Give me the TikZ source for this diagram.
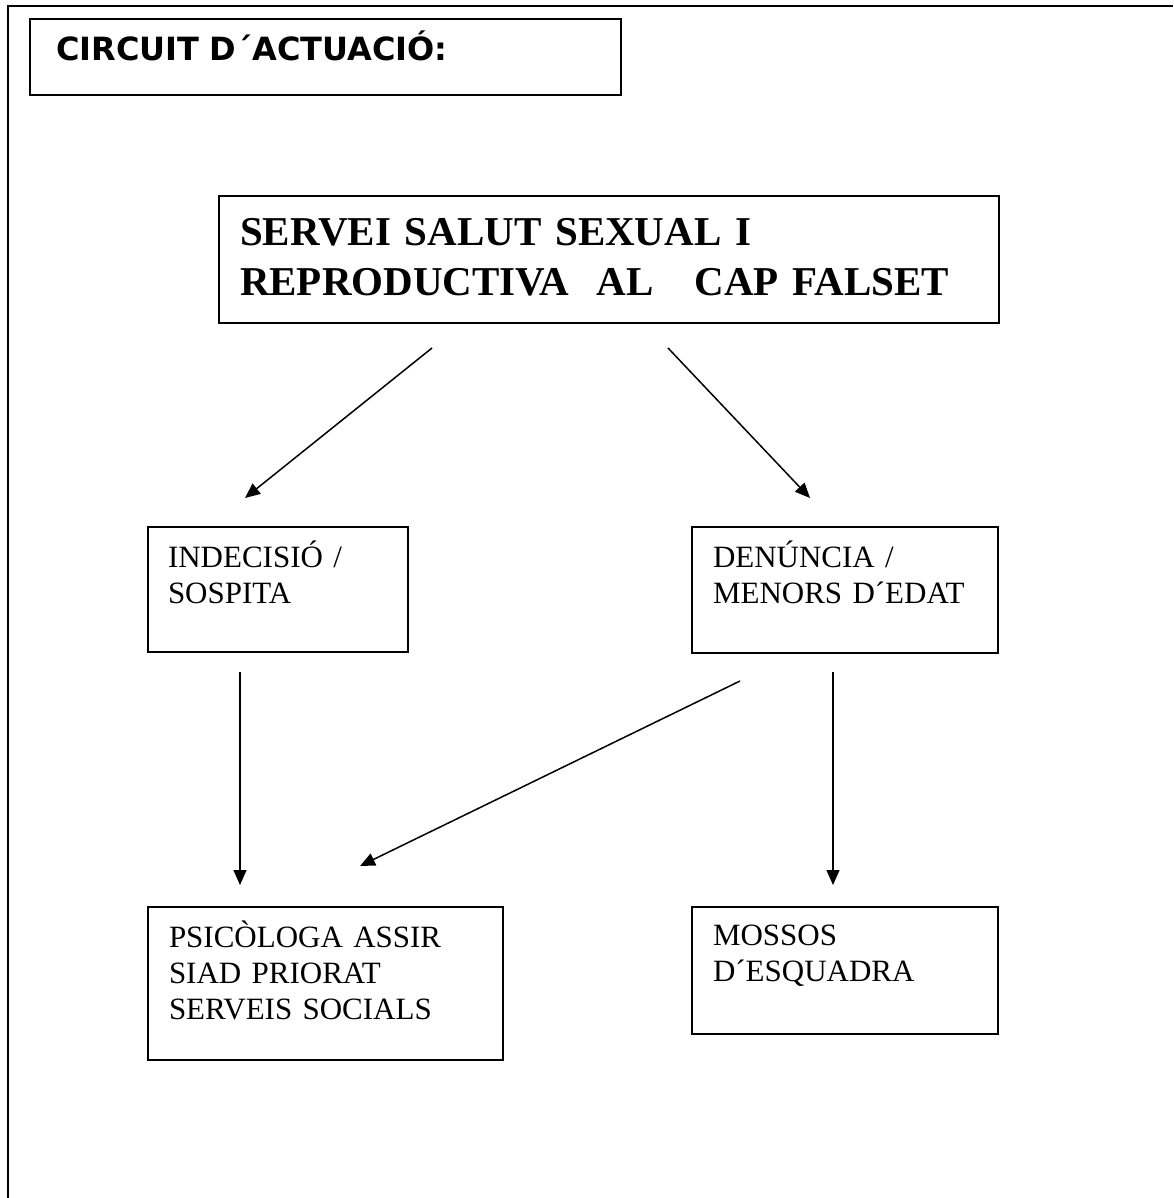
\documentclass[tikz,border=0pt]{standalone}
\usepackage{fontspec}
\setmainfont{Liberation Serif}
\newfontfamily\hdrfont{DejaVu Sans}
\usetikzlibrary{arrows.meta}
\tikzset{
  boxst/.style={draw, line width=1.6pt, anchor=north west, inner sep=0pt, outer sep=0pt},
  txtst/.style={anchor=base west, inner sep=0pt, outer sep=0pt, align=left, text width=950pt},
  bodyfont/.style={font=\fontsize{31}{36}\selectfont},
  arrst/.style={line width=1.5pt, -{Triangle[length=15pt,width=13pt]}}
}
\begin{document}
\begin{tikzpicture}[x=1pt,y=-1pt]
\useasboundingbox (0,0) rectangle (1173,1198);
% outer frame (only top and left edges visible)
\draw[line width=1.8pt] (8,1198) -- (8,6) -- (1173,6);
% header
\node[boxst, minimum width=591pt, minimum height=76pt] (hdr) at (30,19) {};
\node[txtst, font=\hdrfont\bfseries\fontsize{32}{36}\selectfont] (hdrt) at (56,61) {CIRCUIT D´ACTUACIÓ:};
% main box
\node[boxst, minimum width=780pt, minimum height=127pt] (main) at (219,196) {};
\node[txtst, font=\bfseries\fontsize{41}{49}\selectfont] (maint) at (240,246) {SERVEI SALUT SEXUAL I\\REPRODUCTIVA\ \ AL\ \ \ CAP FALSET};
% second row
\node[boxst, minimum width=260pt, minimum height=125pt] (ind) at (148,527) {};
\node[txtst, bodyfont] (indt) at (168,567) {INDECISIÓ /\\SOSPITA};
\node[boxst, minimum width=306pt, minimum height=126pt] (den) at (692,527) {};
\node[txtst, bodyfont] (dent) at (713,567) {DENÚNCIA /\\MENORS D´EDAT};
% third row
\node[boxst, minimum width=355pt, minimum height=153pt] (psi) at (148,907) {};
\node[txtst, bodyfont] (psit) at (169,947) {PSICÒLOGA ASSIR\\SIAD PRIORAT\\SERVEIS SOCIALS};
\node[boxst, minimum width=306pt, minimum height=127pt] (mos) at (692,907) {};
\node[txtst, bodyfont] (most) at (713,945) {MOSSOS\\D´ESQUADRA};
% arrow end points
\coordinate (a1s) at (432,348);
\coordinate (a1e) at (245,498);
\coordinate (a2s) at (668,348);
\coordinate (a2e) at (810,498);
\coordinate (a3s) at (240,672);
\coordinate (a3e) at (240,885);
\coordinate (a4s) at (740,681);
\coordinate (a4e) at (360,866);
\coordinate (a5s) at (833,672);
\coordinate (a5e) at (833,885);
\draw[arrst] (a1s) -- (a1e);
\draw[arrst] (a2s) -- (a2e);
\draw[arrst] (a3s) -- (a3e);
\draw[arrst] (a4s) -- (a4e);
\draw[arrst] (a5s) -- (a5e);
\end{tikzpicture}
\end{document}
